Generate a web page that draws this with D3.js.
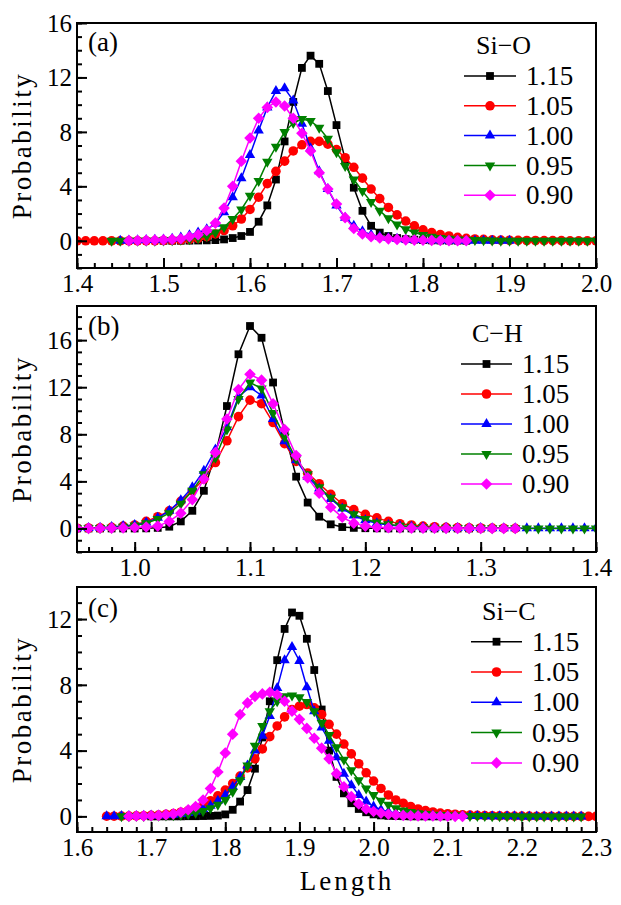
<!DOCTYPE html>
<html><head><meta charset="utf-8">
<script src="https://cdn.jsdelivr.net/npm/d3@7"></script>
<style>
html,body{margin:0;padding:0;background:#fff;}
svg{display:block;}
text{font-family:"Liberation Serif","Times New Roman",serif;fill:#000;}
</style></head>
<body>
<svg id="chart" width="621" height="905"></svg>
<script>
// ---------------- DATA ----------------
const seriesLabels = ["1.15", "1.05", "1.00", "0.95", "0.90"];
const bondLabels = ["Si\u2212O", "C\u2212H", "Si\u2212C"];
const panelTags = ["(a)", "(b)", "(c)"];
const binWidth = 0.01;

const xTicksA = [1.4, 1.5, 1.6, 1.7, 1.8, 1.9, 2.0];
const xTicksB = [1.0, 1.1, 1.2, 1.3, 1.4];
const xTicksC = [1.6, 1.7, 1.8, 1.9, 2.0, 2.1, 2.2, 2.3];
const yTicksA = [0, 4, 8, 12, 16];
const yTicksB = [0, 4, 8, 12, 16];
const yTicksC = [0, 4, 8, 12];

// Panel (a) Si-O : first bin of each series (order 1.15,1.05,1.00,0.95,0.90)
const siO_start = [1.50, 1.40, 1.45, 1.44, 1.46];
const siO_115 = [0,0,0,0.01,0.02,0.03,0.05,0.1,0.2,0.35,
  0.65,1.4,2.6,4.5,7.3,10.2,12.7,13.6,13.0,11.0,
  8.5,6.0,3.9,2.2,1.1,0.6,0.35,0.2,0.12,0.08,
  0.05,0.03,0.02,0.01,0.01,0];
const siO_105 = [0,0,0,0,0,0,0,0,0,0,
  0.02,0.03,0.05,0.1,0.18,0.3,0.5,0.75,1.1,1.6,
  2.3,3.2,4.2,5.1,5.85,6.6,7.05,7.3,7.3,7.1,
  6.7,6.1,5.4,4.6,3.8,3.1,2.45,1.9,1.45,1.1,
  0.8,0.6,0.45,0.35,0.25,0.18,0.13,0.1,0.07,0.05,
  0.04,0.03,0.02,0.02,0.01,0.01,0.01,0,0,0,0];
const siO_100 = [0.01,0.02,0.03,0.05,0.07,
  0.1,0.15,0.25,0.4,0.6,0.85,1.25,2.1,3.2,4.6,
  6.3,8.1,9.8,11.0,11.2,10.3,8.6,6.8,5.1,3.8,
  2.6,1.7,1.1,0.7,0.45,0.3,0.2,0.14,0.1,0.07,
  0.05,0.04,0.03,0.02,0.02,0.01,0.01,0,0,0,0];
const siO_095 = [0,0,0,0,0,0.01,
  0.02,0.04,0.07,0.12,0.2,0.35,0.6,1.0,1.6,2.3,
  3.3,4.4,5.8,6.9,8.0,8.65,8.95,8.8,8.3,7.5,
  6.5,5.5,4.5,3.65,2.85,2.2,1.65,1.2,0.85,0.6,
  0.42,0.3,0.2,0.14,0.1,0.07,0.05,0.03,0.02,0.01,
  0.01,0,0,0,0,0,0,0,0,0,0];
const siO_090 = [0.01,0.02,0.03,0.05,
  0.07,0.1,0.15,0.3,0.45,0.75,1.3,2.4,4.0,5.85,
  7.55,9.0,9.8,10.2,9.9,9.0,7.9,6.6,5.0,3.8,
  2.7,1.7,0.9,0.5,0.3,0.2,0.14,0.1,0.07,0.05,
  0.04,0.03,0.02,0.01,0.01,0];

// Panel (b) C-H
const cH_start = [0.95, 0.95, 0.95, 0.95, 0.95];
const cH_115 = [0,0,0,0,0,
  0,0.01,0.05,0.15,0.6,1.5,3.2,6.3,10.4,14.8,
  17.2,16.2,12.4,8.2,4.4,2.2,1.0,0.35,0.12,0.05,
  0.02,0.01,0,0,0,0,0,0,0,0,
  0];
const cH_105 = [0.02,0.03,0.05,0.1,0.2,
  0.3,0.6,1.0,1.5,2.3,3.2,4.2,5.6,7.45,9.5,
  10.9,10.6,9.0,7.2,5.7,4.7,3.8,2.9,2.1,1.6,
  1.2,0.9,0.6,0.4,0.3,0.2,0.15,0.1,0.07,0.05,
  0.04,0.03,0.02,0.01];
const cH_100 = [0.02,0.04,0.07,0.12,0.2,
  0.3,0.5,0.9,1.5,2.4,3.5,4.9,6.7,8.6,11.2,
  12.0,11.3,9.3,7.4,5.8,4.4,3.4,2.5,1.7,1.1,
  0.7,0.45,0.3,0.2,0.14,0.1,0.07,0.05,0.04,0.03,
  0.03,0.02,0.02,0.02,0.02,0.02,0.02,0.02,0.02,0.02,0.02];
const cH_095 = [0.01,0.02,0.04,0.07,0.15,
  0.25,0.45,0.8,1.3,2.1,3.2,4.6,6.0,8.4,11.0,
  12.4,11.9,9.8,7.8,5.9,4.6,3.5,2.6,1.8,1.2,
  0.8,0.5,0.35,0.22,0.15,0.1,0.07,0.05,0.03,0.02,
  0.02,0.01,0.01,0.01,0,0,0,0,0,0,0];
const cH_090 = [0.01,0.01,0.02,0.03,0.05,
  0.08,0.12,0.2,0.6,1.3,2.45,4.2,6.45,9.3,11.8,
  13.1,12.6,10.6,8.4,6.2,4.3,3.0,1.8,0.95,0.45,
  0.2,0.1,0.06,0.04,0.03,0.02,0.02,0.01,0.01,0.01,
  0,0,0,0];

// Panel (c) Si-C
const siC_start = [1.70, 1.64, 1.64, 1.66, 1.67];
const siC_115 = [0,0,0,0,0,0.01,0.01,0.02,0.03,0.05,
  0.12,0.4,0.9,1.6,2.9,4.8,7.0,9.5,11.4,12.4,
  12.2,10.8,8.9,6.5,4.0,2.4,1.4,0.8,0.45,0.25,
  0.12,0.06,0.03,0.02,0.01,0,0,0,0,0,0];
const siC_105 = [0.01,0.01,0.02,0.02,0.03,0.04,
  0.06,0.08,0.12,0.17,0.25,0.35,0.5,0.7,0.95,1.25,
  1.6,2.0,2.45,2.95,3.5,4.1,4.85,5.5,6.05,6.5,
  6.7,6.8,6.6,6.2,5.6,5.0,4.4,3.8,3.2,2.65,
  2.15,1.7,1.3,1.0,0.8,0.6,0.45,0.35,0.27,0.2,
  0.16,0.13,0.1,0.08,0.06,0.05,0.04,0.03,0.03,0.02,
  0.02,0.02,0.01,0.01,0.01,0.01,0,0,0,0,0];
const siC_100 = [0.01,0.01,0.02,0.02,0.03,0.04,
  0.05,0.06,0.08,0.1,0.14,0.2,0.3,0.45,0.65,0.95,
  1.3,1.8,2.4,3.1,4.0,4.9,6.1,7.8,9.5,10.3,
  9.45,7.85,6.4,5.4,4.6,3.6,2.6,1.9,1.3,0.9,
  0.6,0.4,0.28,0.2,0.15,0.11,0.08,0.06,0.05,0.04,
  0.03,0.03,0.02,0.02,0.02,0.01,0.01,0.01,0.01,0.01,
  0,0,0,0,0,0,0,0,0];
const siC_095 = [0.01,0.01,0.02,0.02,
  0.03,0.04,0.05,0.07,0.1,0.15,0.22,0.33,0.5,0.7,
  1.0,1.5,2.2,3.1,4.3,5.5,6.4,7.0,7.3,7.35,
  7.25,6.95,6.4,5.7,4.95,4.2,3.45,2.8,2.2,1.7,
  1.3,0.95,0.7,0.5,0.36,0.26,0.19,0.14,0.1,0.08,
  0.06,0.05,0.04,0.03,0.02,0.02,0.01,0.01,0.01,0.01,
  0,0,0,0,0,0,0,0,0];
const siC_090 = [0.01,0.02,0.03,
  0.04,0.06,0.1,0.15,0.25,0.4,0.6,1.0,1.7,2.7,
  3.85,5.0,6.2,6.9,7.3,7.45,7.55,7.4,7.0,6.4,
  5.9,5.35,4.75,4.15,3.5,2.6,1.8,1.2,0.75,0.45,
  0.3,0.2,0.13,0.09,0.06,0.04,0.03,0.02,0.02,0.01,
  0.01,0,0];

// ---------------- LAYOUT / STYLE ----------------
const colors = ["#000000", "#ff0000", "#0000ff", "#008000", "#ff00ff"];
const shapes = ["square", "circle", "triUp", "triDown", "diamond"];
const X0 = 77, X1 = 596;

const panels = [
  {top: 23, bottom: 268, xd: [1.4, 2.0], yd: [-2, 16], xt: xTicksA, yt: yTicksA,
   starts: siO_start, vals: [siO_115, siO_105, siO_100, siO_095, siO_090],
   leg: {lx0: 464, lx1: 516, tx: 526, y0: 76, dy: 29.8, titleX: 476, titleY: 54},
   tagY: 51},
  {top: 306, bottom: 552, xd: [0.95, 1.4], yd: [-2, 18.9], xt: xTicksB, yt: yTicksB,
   starts: cH_start, vals: [cH_115, cH_105, cH_100, cH_095, cH_090],
   leg: {lx0: 461, lx1: 512, tx: 522, y0: 364, dy: 30, titleX: 472, titleY: 342},
   tagY: 335},
  {top: 587, bottom: 832, xd: [1.6, 2.3], yd: [-0.95, 13.95], xt: xTicksC, yt: yTicksC,
   starts: siC_start, vals: [siC_115, siC_105, siC_100, siC_095, siC_090],
   leg: {lx0: 471, lx1: 522, tx: 532, y0: 641.7, dy: 30.3, titleX: 482, titleY: 620},
   tagY: 617}
];

function symbolPath(shape) {
  switch (shape) {
    case "square": return "M-3.9,-3.9h7.8v7.8h-7.8Z";
    case "circle": return "M4.8,0A4.8,4.8 0 1,1 -4.8,0A4.8,4.8 0 1,1 4.8,0Z";
    case "triUp": return "M0,-6L5.2,3L-5.2,3Z";
    case "triDown": return "M0,6L5.2,-3L-5.2,-3Z";
    case "diamond": return "M0,-5.8L5.8,0L0,5.8L-5.8,0Z";
  }
}

const svg = d3.select("#chart");
const fmt = d3.format(".1f");

panels.forEach((p, pi) => {
  const x = d3.scaleLinear().domain(p.xd).range([X0, X1]);
  const y = d3.scaleLinear().domain(p.yd).range([p.bottom, p.top]);
  const g = svg.append("g");

  const clipId = "clip" + pi;
  svg.append("clipPath").attr("id", clipId).append("rect")
    .attr("x", X0).attr("y", p.top).attr("width", X1 - X0).attr("height", p.bottom - p.top);

  const xMinor = d3.range(Math.ceil(p.xd[0] / 0.02 - 1e-6), Math.floor(p.xd[1] / 0.02 + 1e-6) + 1).map(k => k * 0.02);
  const yMinor = d3.range(Math.ceil(p.yd[0]), Math.floor(p.yd[1]) + 1);

  const xAxisMinor = d3.axisBottom(x).tickValues(xMinor).tickSize(-5).tickFormat("");
  const xAxisMajor = d3.axisBottom(x).tickValues(p.xt).tickSize(-10).tickFormat(fmt).tickPadding(24);
  const yAxisMinor = d3.axisLeft(y).tickValues(yMinor).tickSize(-5).tickFormat("");
  const yAxisMajor = d3.axisLeft(y).tickValues(p.yt).tickSize(-10).tickFormat(d3.format("d")).tickPadding(5);

  const data = p.vals.map((vals, si) => vals.map((v, i) => ({x: p.starts[si] + i * binWidth, y: v})));

  const plot = g.append("g").attr("clip-path", `url(#${clipId})`);
  const line = d3.line().x(d => x(d.x)).y(d => y(d.y));
  data.forEach((ser, si) => {
    const sg = plot.append("g");
    sg.append("path").datum(ser).attr("d", line)
      .attr("fill", "none").attr("stroke", colors[si]).attr("stroke-width", 1.5);
    sg.selectAll("path.m").data(ser).enter().append("path").attr("class", "m")
      .attr("d", symbolPath(shapes[si]))
      .attr("transform", d => `translate(${x(d.x)},${y(d.y)})`)
      .attr("fill", colors[si]);
  });

  function styleAxis(sel) {
    sel.select(".domain").remove();
    sel.selectAll(".tick line").attr("stroke", "#000").attr("stroke-width", 2);
    sel.selectAll(".tick text").attr("font-family", "Liberation Serif").attr("font-size", 25).attr("fill", "#000");
  }
  g.append("g").attr("transform", `translate(0,${p.bottom})`).call(xAxisMinor).call(styleAxis);
  g.append("g").attr("transform", `translate(0,${p.bottom})`).call(xAxisMajor).call(styleAxis)
    .selectAll(".tick text").attr("dy", "0");
  g.append("g").attr("transform", `translate(${X0},0)`).call(yAxisMinor).call(styleAxis);
  g.append("g").attr("transform", `translate(${X0},0)`).call(yAxisMajor).call(styleAxis)
    .selectAll(".tick text").attr("dy", "0.33em");

  g.append("rect").attr("x", X0).attr("y", p.top).attr("width", X1 - X0).attr("height", p.bottom - p.top)
    .attr("fill", "none").attr("stroke", "#000").attr("stroke-width", 2);

  g.append("text").attr("x", 88).attr("y", p.tagY).attr("font-size", 27).text(panelTags[pi]);

  const L = p.leg;
  g.append("text").attr("x", L.titleX).attr("y", L.titleY).attr("font-size", 26).text(bondLabels[pi]);
  seriesLabels.forEach((lab, si) => {
    const cy = L.y0 + si * L.dy;
    g.append("line").attr("x1", L.lx0).attr("x2", L.lx1).attr("y1", cy).attr("y2", cy)
      .attr("stroke", colors[si]).attr("stroke-width", 1.5);
    g.append("path").attr("d", symbolPath(shapes[si]))
      .attr("transform", `translate(${(L.lx0 + L.lx1) / 2},${cy})`).attr("fill", colors[si]);
    g.append("text").attr("x", L.tx).attr("y", cy).attr("dy", "0.34em").attr("font-size", 27).text(lab);
  });

  g.append("text").attr("transform", `translate(31,${(p.top + p.bottom) / 2}) rotate(-90)`)
    .attr("text-anchor", "middle").attr("font-size", 27).attr("letter-spacing", 2.5).text("Probability");
});

svg.append("text").attr("x", 347).attr("y", 890).attr("text-anchor", "middle")
  .attr("font-size", 27).attr("letter-spacing", 3).text("Length");
</script>
</body></html>
